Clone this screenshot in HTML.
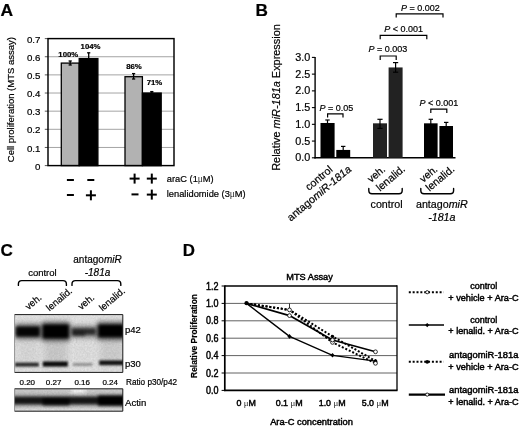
<!DOCTYPE html>
<html><head><meta charset="utf-8"><title>Figure</title>
<style>
html,body{margin:0;padding:0;background:#fff;}
body{width:520px;height:428px;overflow:hidden;font-family:"Liberation Sans",sans-serif;}
svg{display:block;filter:blur(0.45px);}
svg text{font-family:"Liberation Sans",sans-serif;fill:#000;stroke:#000;stroke-width:0.2px;}
</style></head><body>
<svg width="520" height="428" viewBox="0 0 520 428">
<rect x="0" y="0" width="520" height="428" fill="#fff"/>
<text x="0.60" y="16.01" font-size="16.5" text-anchor="start" font-weight="bold" font-style="normal" textLength="12.6" lengthAdjust="spacingAndGlyphs" >A</text>
<text x="255.40" y="16.01" font-size="16.5" text-anchor="start" font-weight="bold" font-style="normal" textLength="12.4" lengthAdjust="spacingAndGlyphs" >B</text>
<text x="0.60" y="256.11" font-size="16.5" text-anchor="start" font-weight="bold" font-style="normal" textLength="12.4" lengthAdjust="spacingAndGlyphs" >C</text>
<text x="182.80" y="256.21" font-size="16.5" text-anchor="start" font-weight="bold" font-style="normal" textLength="12.2" lengthAdjust="spacingAndGlyphs" >D</text>
<line x1="48.00" y1="147.46" x2="174.00" y2="147.46" stroke="#9a9a9a" stroke-width="0.9" />
<line x1="48.00" y1="129.31" x2="174.00" y2="129.31" stroke="#9a9a9a" stroke-width="0.9" />
<line x1="48.00" y1="111.17" x2="174.00" y2="111.17" stroke="#9a9a9a" stroke-width="0.9" />
<line x1="48.00" y1="93.03" x2="174.00" y2="93.03" stroke="#9a9a9a" stroke-width="0.9" />
<line x1="48.00" y1="74.89" x2="174.00" y2="74.89" stroke="#9a9a9a" stroke-width="0.9" />
<line x1="48.00" y1="56.74" x2="174.00" y2="56.74" stroke="#9a9a9a" stroke-width="0.9" />
<line x1="44.80" y1="165.60" x2="48.00" y2="165.60" stroke="#444" stroke-width="0.9" />
<text x="40.40" y="169.77" font-size="9.7" text-anchor="end" font-weight="normal" font-style="normal" >0</text>
<line x1="44.80" y1="147.46" x2="48.00" y2="147.46" stroke="#444" stroke-width="0.9" />
<text x="40.40" y="151.63" font-size="9.7" text-anchor="end" font-weight="normal" font-style="normal" >0.1</text>
<line x1="44.80" y1="129.31" x2="48.00" y2="129.31" stroke="#444" stroke-width="0.9" />
<text x="40.40" y="133.49" font-size="9.7" text-anchor="end" font-weight="normal" font-style="normal" >0.2</text>
<line x1="44.80" y1="111.17" x2="48.00" y2="111.17" stroke="#444" stroke-width="0.9" />
<text x="40.40" y="115.34" font-size="9.7" text-anchor="end" font-weight="normal" font-style="normal" >0.3</text>
<line x1="44.80" y1="93.03" x2="48.00" y2="93.03" stroke="#444" stroke-width="0.9" />
<text x="40.40" y="97.20" font-size="9.7" text-anchor="end" font-weight="normal" font-style="normal" >0.4</text>
<line x1="44.80" y1="74.89" x2="48.00" y2="74.89" stroke="#444" stroke-width="0.9" />
<text x="40.40" y="79.06" font-size="9.7" text-anchor="end" font-weight="normal" font-style="normal" >0.5</text>
<line x1="44.80" y1="56.74" x2="48.00" y2="56.74" stroke="#444" stroke-width="0.9" />
<text x="40.40" y="60.92" font-size="9.7" text-anchor="end" font-weight="normal" font-style="normal" >0.6</text>
<line x1="44.80" y1="38.60" x2="48.00" y2="38.60" stroke="#444" stroke-width="0.9" />
<text x="40.40" y="42.77" font-size="9.7" text-anchor="end" font-weight="normal" font-style="normal" >0.7</text>
<rect x="61.30" y="63.09" width="17.90" height="102.51" fill="#b2b2b2" stroke="#000" stroke-width="1.3" />
<rect x="79.20" y="58.56" width="18.70" height="107.04" fill="#000" stroke="#000" stroke-width="1.3" />
<rect x="125.00" y="76.70" width="17.40" height="88.90" fill="#b2b2b2" stroke="#000" stroke-width="1.3" />
<rect x="142.40" y="93.03" width="18.80" height="72.57" fill="#000" stroke="#000" stroke-width="1.3" />
<rect x="48.00" y="38.60" width="126.00" height="127.00" fill="none" stroke="#000" stroke-width="1.45" />
<line x1="70.20" y1="61.00" x2="70.20" y2="65.00" stroke="#000" stroke-width="1.3" />
<line x1="68.60" y1="61.00" x2="71.80" y2="61.00" stroke="#000" stroke-width="1.3" />
<line x1="68.60" y1="65.00" x2="71.80" y2="65.00" stroke="#000" stroke-width="1.3" />
<line x1="88.70" y1="52.80" x2="88.70" y2="59.00" stroke="#000" stroke-width="1.3" />
<line x1="87.10" y1="52.80" x2="90.30" y2="52.80" stroke="#000" stroke-width="1.3" />
<line x1="87.10" y1="59.00" x2="90.30" y2="59.00" stroke="#000" stroke-width="1.3" />
<line x1="133.60" y1="73.60" x2="133.60" y2="79.00" stroke="#000" stroke-width="1.3" />
<line x1="132.00" y1="73.60" x2="135.20" y2="73.60" stroke="#000" stroke-width="1.3" />
<line x1="132.00" y1="79.00" x2="135.20" y2="79.00" stroke="#000" stroke-width="1.3" />
<line x1="151.80" y1="91.60" x2="151.80" y2="93.20" stroke="#000" stroke-width="1.3" />
<line x1="150.20" y1="91.60" x2="153.40" y2="91.60" stroke="#000" stroke-width="1.3" />
<line x1="150.20" y1="93.20" x2="153.40" y2="93.20" stroke="#000" stroke-width="1.3" />
<text x="68.30" y="57.39" font-size="7.8" text-anchor="middle" font-weight="bold" font-style="normal" >100%</text>
<text x="90.60" y="48.69" font-size="7.8" text-anchor="middle" font-weight="bold" font-style="normal" >104%</text>
<text x="134.00" y="68.59" font-size="7.8" text-anchor="middle" font-weight="bold" font-style="normal" >86%</text>
<text x="154.50" y="84.99" font-size="7.8" text-anchor="middle" font-weight="bold" font-style="normal" >71%</text>
<text transform="translate(14.40,99.60) rotate(-90)" font-size="9.5" text-anchor="middle" font-weight="normal" >Cell proliferation (MTS assay)</text>
<rect x="66.90" y="179.00" width="7.00" height="2.00" fill="#000" stroke="none" stroke-width="1" />
<rect x="87.30" y="179.00" width="7.00" height="2.00" fill="#000" stroke="none" stroke-width="1" />
<rect x="66.90" y="194.00" width="7.00" height="2.00" fill="#000" stroke="none" stroke-width="1" />
<rect x="85.90" y="194.30" width="10.00" height="2.00" fill="#000" stroke="none" stroke-width="1" />
<rect x="89.90" y="190.30" width="2.00" height="10.00" fill="#000" stroke="none" stroke-width="1" />
<rect x="129.60" y="177.60" width="10.00" height="2.00" fill="#000" stroke="none" stroke-width="1" />
<rect x="133.60" y="173.60" width="2.00" height="10.00" fill="#000" stroke="none" stroke-width="1" />
<rect x="146.80" y="177.60" width="10.00" height="2.00" fill="#000" stroke="none" stroke-width="1" />
<rect x="150.80" y="173.60" width="2.00" height="10.00" fill="#000" stroke="none" stroke-width="1" />
<rect x="131.50" y="193.40" width="7.00" height="2.00" fill="#000" stroke="none" stroke-width="1" />
<rect x="146.80" y="193.60" width="10.00" height="2.00" fill="#000" stroke="none" stroke-width="1" />
<rect x="150.80" y="189.60" width="2.00" height="10.00" fill="#000" stroke="none" stroke-width="1" />
<text x="166.80" y="181.93" font-size="9.3" text-anchor="start" font-weight="normal" font-style="normal" >araC (1<tspan style="font-family:'Liberation Serif',serif;stroke:none;fill:#222">&#956;</tspan>M)</text>
<text x="166.80" y="197.13" font-size="9.3" text-anchor="start" font-weight="normal" font-style="normal" >lenalidomide (3<tspan style="font-family:'Liberation Serif',serif;stroke:none;fill:#222">&#956;</tspan>M)</text>
<line x1="315.10" y1="56.90" x2="315.10" y2="158.40" stroke="#000" stroke-width="1.4" />
<line x1="314.40" y1="157.80" x2="455.50" y2="157.80" stroke="#000" stroke-width="1.4" />
<line x1="311.90" y1="157.80" x2="315.10" y2="157.80" stroke="#000" stroke-width="1.1" />
<text x="310.30" y="161.37" font-size="10.8" text-anchor="end" font-weight="normal" font-style="normal" >0.0</text>
<line x1="311.90" y1="141.07" x2="315.10" y2="141.07" stroke="#000" stroke-width="1.1" />
<text x="310.30" y="144.63" font-size="10.8" text-anchor="end" font-weight="normal" font-style="normal" >0.5</text>
<line x1="311.90" y1="124.33" x2="315.10" y2="124.33" stroke="#000" stroke-width="1.1" />
<text x="310.30" y="127.90" font-size="10.8" text-anchor="end" font-weight="normal" font-style="normal" >1.0</text>
<line x1="311.90" y1="107.60" x2="315.10" y2="107.60" stroke="#000" stroke-width="1.1" />
<text x="310.30" y="111.17" font-size="10.8" text-anchor="end" font-weight="normal" font-style="normal" >1.5</text>
<line x1="311.90" y1="90.87" x2="315.10" y2="90.87" stroke="#000" stroke-width="1.1" />
<text x="310.30" y="94.43" font-size="10.8" text-anchor="end" font-weight="normal" font-style="normal" >2.0</text>
<line x1="311.90" y1="74.13" x2="315.10" y2="74.13" stroke="#000" stroke-width="1.1" />
<text x="310.30" y="77.70" font-size="10.8" text-anchor="end" font-weight="normal" font-style="normal" >2.5</text>
<line x1="311.90" y1="57.40" x2="315.10" y2="57.40" stroke="#000" stroke-width="1.1" />
<text x="310.30" y="60.97" font-size="10.8" text-anchor="end" font-weight="normal" font-style="normal" >3.0</text>
<rect x="320.50" y="122.99" width="14.10" height="34.81" fill="#000" stroke="none" stroke-width="1" />
<rect x="336.30" y="149.94" width="13.90" height="7.86" fill="#000" stroke="none" stroke-width="1" />
<rect x="373.00" y="123.33" width="14.00" height="34.47" fill="#222" stroke="none" stroke-width="1" />
<rect x="388.60" y="67.44" width="14.00" height="90.36" fill="#222" stroke="none" stroke-width="1" />
<rect x="424.00" y="123.33" width="13.60" height="34.47" fill="#000" stroke="none" stroke-width="1" />
<rect x="439.40" y="126.01" width="13.60" height="31.79" fill="#000" stroke="none" stroke-width="1" />
<line x1="327.50" y1="120.00" x2="327.50" y2="124.50" stroke="#000" stroke-width="1.2" />
<line x1="325.30" y1="120.00" x2="329.70" y2="120.00" stroke="#000" stroke-width="1.2" />
<line x1="325.30" y1="124.50" x2="329.70" y2="124.50" stroke="#000" stroke-width="1.2" />
<line x1="343.20" y1="146.40" x2="343.20" y2="151.50" stroke="#000" stroke-width="1.2" />
<line x1="341.00" y1="146.40" x2="345.40" y2="146.40" stroke="#000" stroke-width="1.2" />
<line x1="341.00" y1="151.50" x2="345.40" y2="151.50" stroke="#000" stroke-width="1.2" />
<line x1="380.00" y1="119.30" x2="380.00" y2="128.40" stroke="#000" stroke-width="1.2" />
<line x1="377.40" y1="119.30" x2="382.60" y2="119.30" stroke="#000" stroke-width="1.2" />
<line x1="377.40" y1="128.40" x2="382.60" y2="128.40" stroke="#000" stroke-width="1.2" />
<line x1="395.60" y1="62.60" x2="395.60" y2="72.20" stroke="#000" stroke-width="1.2" />
<line x1="393.00" y1="62.60" x2="398.20" y2="62.60" stroke="#000" stroke-width="1.2" />
<line x1="393.00" y1="72.20" x2="398.20" y2="72.20" stroke="#000" stroke-width="1.2" />
<line x1="430.80" y1="119.30" x2="430.80" y2="126.00" stroke="#000" stroke-width="1.2" />
<line x1="428.60" y1="119.30" x2="433.00" y2="119.30" stroke="#000" stroke-width="1.2" />
<line x1="428.60" y1="126.00" x2="433.00" y2="126.00" stroke="#000" stroke-width="1.2" />
<line x1="446.20" y1="122.40" x2="446.20" y2="128.00" stroke="#000" stroke-width="1.2" />
<line x1="444.00" y1="122.40" x2="448.40" y2="122.40" stroke="#000" stroke-width="1.2" />
<line x1="444.00" y1="128.00" x2="448.40" y2="128.00" stroke="#000" stroke-width="1.2" />
<path d="M327.60,117.60 V113.80 H343.00 V117.60" stroke="#000" stroke-width="1.2" fill="none" />
<path d="M380.20,60.00 V56.00 H396.20 V60.00" stroke="#000" stroke-width="1.2" fill="none" />
<path d="M380.20,39.20 V35.40 H426.80 V39.20" stroke="#000" stroke-width="1.2" fill="none" />
<path d="M396.20,17.60 V13.90 H443.00 V17.60" stroke="#000" stroke-width="1.2" fill="none" />
<path d="M430.80,113.00 V109.20 H446.80 V113.00" stroke="#000" stroke-width="1.2" fill="none" />
<text transform="translate(319.60,111.01) scale(1,1.09)" font-size="9.0"><tspan font-style="italic">P</tspan> = 0.05</text>
<text transform="translate(368.40,52.21) scale(1,1.09)" font-size="9.0"><tspan font-style="italic">P</tspan> = 0.003</text>
<text transform="translate(384.20,32.21) scale(1,1.09)" font-size="9.0"><tspan font-style="italic">P</tspan> &lt; 0.001</text>
<text transform="translate(401.00,11.41) scale(1,1.09)" font-size="9.0"><tspan font-style="italic">P</tspan> = 0.002</text>
<text transform="translate(419.60,105.81) scale(1,1.09)" font-size="9.0"><tspan font-style="italic">P</tspan> &lt; 0.001</text>
<text transform="translate(280.40,97.50) rotate(-90)" font-size="10.9" text-anchor="middle" font-weight="normal" >Relative <tspan font-style="italic">miR-181a</tspan> Expression</text>
<text transform="translate(333.30,170.60) rotate(-40)" font-size="10.6" text-anchor="end" font-weight="normal" >control</text>
<text transform="translate(352.00,170.40) rotate(-40)" font-size="10.8" text-anchor="end" font-weight="normal" >antago<tspan font-style="italic">miR-181a</tspan></text>
<text transform="translate(386.00,170.40) rotate(-40)" font-size="10.4" text-anchor="end" font-weight="normal" >veh.</text>
<text transform="translate(405.90,170.00) rotate(-40)" font-size="10.7" text-anchor="end" font-weight="normal" >lenalid.</text>
<text transform="translate(438.30,170.30) rotate(-40)" font-size="10.4" text-anchor="end" font-weight="normal" >veh.</text>
<text transform="translate(455.20,170.20) rotate(-40)" font-size="10.6" text-anchor="end" font-weight="normal" >lenalid.</text>
<path d="M368.80,188.40 V190.60 Q368.80,193.80 372.00,193.80 H399.00 Q402.20,193.80 402.20,190.60 V188.40" stroke="#000" stroke-width="1.4" fill="none" stroke-linecap="round"/>
<path d="M420.80,188.40 V190.60 Q420.80,193.80 424.00,193.80 H450.40 Q453.60,193.80 453.60,190.60 V188.40" stroke="#000" stroke-width="1.4" fill="none" stroke-linecap="round"/>
<text x="386.60" y="208.03" font-size="10.7" text-anchor="middle" font-weight="normal" font-style="normal" >control</text>
<text x="441.80" y="208.03" font-size="10.7" text-anchor="middle" font-weight="normal" font-style="normal" >antago<tspan font-style="italic">miR</tspan></text>
<text x="441.80" y="221.13" font-size="10.7" text-anchor="middle" font-weight="normal" font-style="italic" >-181a</text>
<text x="42.40" y="275.80" font-size="9.5" text-anchor="middle" font-weight="normal" font-style="normal" >control</text>
<text x="97.50" y="263.38" font-size="10" text-anchor="middle" font-weight="normal" font-style="normal" >antago<tspan font-style="italic">miR</tspan></text>
<text x="97.50" y="275.98" font-size="10" text-anchor="middle" font-weight="normal" font-style="italic" >-181a</text>
<path d="M18.40,285.40 V284.00 Q18.40,280.60 21.80,280.60 H63.00 Q66.40,280.60 66.40,284.00 V285.40" stroke="#000" stroke-width="1.4" fill="none" stroke-linecap="round"/>
<path d="M72.00,285.40 V284.00 Q72.00,280.60 75.40,280.60 H117.40 Q120.80,280.60 120.80,284.00 V285.40" stroke="#000" stroke-width="1.4" fill="none" stroke-linecap="round"/>
<text transform="translate(28.40,310.30) rotate(-40)" font-size="9.6" text-anchor="start" font-weight="normal" >veh.</text>
<text transform="translate(49.60,311.50) rotate(-40)" font-size="9.6" text-anchor="start" font-weight="normal" >lenalid.</text>
<text transform="translate(81.20,310.30) rotate(-40)" font-size="9.6" text-anchor="start" font-weight="normal" >veh.</text>
<text transform="translate(102.40,311.50) rotate(-40)" font-size="9.6" text-anchor="start" font-weight="normal" >lenalid.</text>
<defs>
<filter id="bh" x="-30%" y="-100%" width="160%" height="300%" color-interpolation-filters="sRGB"><feGaussianBlur stdDeviation="2.2 2.4"/></filter>
<filter id="bc" x="-30%" y="-100%" width="160%" height="300%" color-interpolation-filters="sRGB"><feGaussianBlur stdDeviation="1.4 1.5"/></filter>
<filter id="bs" x="-30%" y="-100%" width="160%" height="300%" color-interpolation-filters="sRGB"><feGaussianBlur stdDeviation="3.0 4.0"/></filter>
<filter id="bp" x="-30%" y="-100%" width="160%" height="300%" color-interpolation-filters="sRGB"><feGaussianBlur stdDeviation="1.3 0.95"/></filter>
<filter id="nz" x="0" y="0" width="100%" height="100%" color-interpolation-filters="sRGB"><feTurbulence type="fractalNoise" baseFrequency="0.55" numOctaves="2" seed="7" result="t"/><feColorMatrix in="t" type="matrix" values="0 0 0 0 0  0 0 0 0 0  0 0 0 0 0  0.9 0.9 0 0 -0.55"/></filter>
<clipPath id="c1"><rect x="14.6" y="314.6" width="108.20" height="57.80"/></clipPath>
<clipPath id="c2"><rect x="14.6" y="388.8" width="108.20" height="22.40"/></clipPath>
</defs>
<rect x="14.60" y="314.60" width="108.20" height="57.80" fill="#e6e6e6" stroke="none" stroke-width="1" />
<g clip-path="url(#c1)">
<g filter="url(#bs)">
<rect x="17.00" y="322.00" width="21.70" height="44.00" fill="#dadada" stroke="none" stroke-width="1" />
<rect x="43.80" y="322.00" width="23.90" height="44.00" fill="#cccccc" stroke="none" stroke-width="1" />
<rect x="72.70" y="322.00" width="22.20" height="44.00" fill="#e0e0e0" stroke="none" stroke-width="1" />
<rect x="99.30" y="322.00" width="23.70" height="44.00" fill="#d0d0d0" stroke="none" stroke-width="1" />
</g>
<g filter="url(#bh)">
<rect x="15.00" y="324.50" width="25.70" height="14.00" fill="#4a4a4a" stroke="none" stroke-width="1" />
<rect x="41.80" y="322.50" width="27.90" height="18.00" fill="#3a3a3a" stroke="none" stroke-width="1" />
<rect x="70.70" y="326.00" width="26.20" height="11.50" fill="#7a7a7a" stroke="none" stroke-width="1" />
<rect x="97.30" y="322.50" width="27.70" height="17.00" fill="#404040" stroke="none" stroke-width="1" />
</g>
<g filter="url(#bc)">
<rect x="16.30" y="327.00" width="23.10" height="9.20" fill="#050505" stroke="none" stroke-width="1" />
<rect x="43.10" y="325.00" width="25.30" height="12.80" fill="#000" stroke="none" stroke-width="1" />
<rect x="72.00" y="328.60" width="23.60" height="5.80" fill="#2c2c2c" stroke="none" stroke-width="1" />
<rect x="98.60" y="325.00" width="25.10" height="11.80" fill="#000" stroke="none" stroke-width="1" />
<rect x="72.50" y="330.50" width="12.50" height="5.10" fill="#222" stroke="none" stroke-width="1" />
</g>
<g filter="url(#bp)">
<rect x="15.00" y="362.60" width="23.80" height="4.00" fill="#2a2a2a" stroke="none" stroke-width="1" />
<rect x="42.80" y="361.50" width="25.00" height="5.10" fill="#0c0c0c" stroke="none" stroke-width="1" />
<rect x="73.00" y="363.20" width="19.50" height="2.60" fill="#8c8c8c" stroke="none" stroke-width="1" />
<rect x="99.20" y="360.40" width="25.80" height="4.80" fill="#141414" stroke="none" stroke-width="1" />
</g>
<rect x="14.60" y="314.60" width="108.20" height="57.80" fill="#000" stroke="none" stroke-width="1" filter="url(#nz)" opacity="0.10"/>
</g>
<path d="M14.60,314.60 H122.80 V372.40 H14.60" stroke="#1a1a1a" stroke-width="1.0" fill="none" />
<line x1="14.60" y1="314.60" x2="14.60" y2="372.40" stroke="#777" stroke-width="0.8" />
<rect x="14.60" y="388.80" width="108.20" height="22.40" fill="#cfcfcf" stroke="none" stroke-width="1" />
<g clip-path="url(#c2)">
<g filter="url(#bh)">
<rect x="8.00" y="395.50" width="122.00" height="10.00" fill="#8a8a8a" stroke="none" stroke-width="1" />
<rect x="71.00" y="387.00" width="15.00" height="7.00" fill="#fafafa" stroke="none" stroke-width="1" />
<rect x="8.00" y="408.50" width="122.00" height="5.50" fill="#e8e8e8" stroke="none" stroke-width="1" />
</g>
<g filter="url(#bc)">
<rect x="8.00" y="396.80" width="122.00" height="7.40" fill="#161616" stroke="none" stroke-width="1" />
<rect x="42.50" y="397.20" width="27.00" height="8.20" fill="#050505" stroke="none" stroke-width="1" />
<rect x="98.00" y="395.40" width="28.00" height="10.40" fill="#000" stroke="none" stroke-width="1" />
</g>
<rect x="14.60" y="388.80" width="108.20" height="22.40" fill="#000" stroke="none" stroke-width="1" filter="url(#nz)" opacity="0.10"/>
</g>
<path d="M14.60,388.80 H122.80 V411.20 H14.60" stroke="#1a1a1a" stroke-width="1.0" fill="none" />
<line x1="14.60" y1="388.80" x2="14.60" y2="411.20" stroke="#777" stroke-width="0.8" />
<text x="125.00" y="332.60" font-size="9.5" text-anchor="start" font-weight="normal" font-style="normal" >p42</text>
<text x="125.00" y="366.60" font-size="9.5" text-anchor="start" font-weight="normal" font-style="normal" >p30</text>
<text x="125.00" y="405.64" font-size="9.6" text-anchor="start" font-weight="normal" font-style="normal" >Actin</text>
<text x="27.30" y="384.86" font-size="8" text-anchor="middle" font-weight="normal" font-style="normal" >0.20</text>
<text x="53.60" y="384.86" font-size="8" text-anchor="middle" font-weight="normal" font-style="normal" >0.27</text>
<text x="82.20" y="384.86" font-size="8" text-anchor="middle" font-weight="normal" font-style="normal" >0.16</text>
<text x="110.20" y="384.86" font-size="8" text-anchor="middle" font-weight="normal" font-style="normal" >0.24</text>
<text x="126.00" y="384.94" font-size="8.2" text-anchor="start" font-weight="normal" font-style="normal" >Ratio p30/p42</text>
<line x1="224.80" y1="373.00" x2="397.00" y2="373.00" stroke="#3a3a3a" stroke-width="0.8" />
<line x1="224.80" y1="355.60" x2="397.00" y2="355.60" stroke="#3a3a3a" stroke-width="0.8" />
<line x1="224.80" y1="338.20" x2="397.00" y2="338.20" stroke="#3a3a3a" stroke-width="0.8" />
<line x1="224.80" y1="320.80" x2="397.00" y2="320.80" stroke="#3a3a3a" stroke-width="0.8" />
<line x1="224.80" y1="303.40" x2="397.00" y2="303.40" stroke="#3a3a3a" stroke-width="0.8" />
<line x1="224.80" y1="286.00" x2="397.00" y2="286.00" stroke="#000" stroke-width="1.5" />
<line x1="397.00" y1="285.30" x2="397.00" y2="390.40" stroke="#000" stroke-width="1.3" />
<line x1="224.80" y1="285.40" x2="224.80" y2="391.10" stroke="#000" stroke-width="1.7" />
<line x1="224.00" y1="390.40" x2="397.50" y2="390.40" stroke="#000" stroke-width="1.6" />
<line x1="221.60" y1="390.40" x2="224.80" y2="390.40" stroke="#000" stroke-width="1" />
<text x="218.40" y="394.08" font-size="10.0" text-anchor="end" font-weight="normal" font-style="normal" textLength="12.5" lengthAdjust="spacingAndGlyphs" style="stroke:#000;stroke-width:0.45px">0.0</text>
<line x1="221.60" y1="373.00" x2="224.80" y2="373.00" stroke="#000" stroke-width="1" />
<text x="218.40" y="376.68" font-size="10.0" text-anchor="end" font-weight="normal" font-style="normal" textLength="12.5" lengthAdjust="spacingAndGlyphs" style="stroke:#000;stroke-width:0.45px">0.2</text>
<line x1="221.60" y1="355.60" x2="224.80" y2="355.60" stroke="#000" stroke-width="1" />
<text x="218.40" y="359.28" font-size="10.0" text-anchor="end" font-weight="normal" font-style="normal" textLength="12.5" lengthAdjust="spacingAndGlyphs" style="stroke:#000;stroke-width:0.45px">0.4</text>
<line x1="221.60" y1="338.20" x2="224.80" y2="338.20" stroke="#000" stroke-width="1" />
<text x="218.40" y="341.88" font-size="10.0" text-anchor="end" font-weight="normal" font-style="normal" textLength="12.5" lengthAdjust="spacingAndGlyphs" style="stroke:#000;stroke-width:0.45px">0.6</text>
<line x1="221.60" y1="320.80" x2="224.80" y2="320.80" stroke="#000" stroke-width="1" />
<text x="218.40" y="324.48" font-size="10.0" text-anchor="end" font-weight="normal" font-style="normal" textLength="12.5" lengthAdjust="spacingAndGlyphs" style="stroke:#000;stroke-width:0.45px">0.8</text>
<line x1="221.60" y1="303.40" x2="224.80" y2="303.40" stroke="#000" stroke-width="1" />
<text x="218.40" y="307.08" font-size="10.0" text-anchor="end" font-weight="normal" font-style="normal" textLength="12.5" lengthAdjust="spacingAndGlyphs" style="stroke:#000;stroke-width:0.45px">1.0</text>
<line x1="221.60" y1="286.00" x2="224.80" y2="286.00" stroke="#000" stroke-width="1" />
<text x="218.40" y="289.68" font-size="10.0" text-anchor="end" font-weight="normal" font-style="normal" textLength="12.5" lengthAdjust="spacingAndGlyphs" style="stroke:#000;stroke-width:0.45px">1.2</text>
<polyline points="246.50,303.40 289.50,336.40 332.50,355.30 375.50,361.20" fill="none" stroke="#000" stroke-width="1.35" stroke-linejoin="round"/>
<polyline points="246.50,303.40 289.50,309.90 332.50,336.40 375.50,361.00" fill="none" stroke="#000" stroke-width="2.0" stroke-dasharray="2 1.85" stroke-linejoin="round"/>
<polyline points="246.50,303.40 289.50,309.90 332.50,342.40 375.50,363.30" fill="none" stroke="#000" stroke-width="2.0" stroke-dasharray="2 1.85" stroke-linejoin="round"/>
<polyline points="246.50,303.40 289.50,315.60 332.50,340.00 375.50,351.80" fill="none" stroke="#000" stroke-width="1.7" stroke-linejoin="round"/>
<line x1="289.50" y1="303.60" x2="289.50" y2="309.00" stroke="#000" stroke-width="0.8" />
<path d="M289.5,334.09999999999997 l2.1,2.3 l-2.1,2.3 l-2.1,-2.3 z" fill="#000"/>
<path d="M332.5,353.0 l2.1,2.3 l-2.1,2.3 l-2.1,-2.3 z" fill="#000"/>
<path d="M375.5,358.9 l2.1,2.3 l-2.1,2.3 l-2.1,-2.3 z" fill="#000"/>
<circle cx="289.5" cy="309.9" r="1.7" fill="#000"/>
<circle cx="332.5" cy="336.4" r="1.7" fill="#000"/>
<circle cx="375.5" cy="361.0" r="1.7" fill="#000"/>
<circle cx="289.5" cy="309.9" r="1.9" fill="#fff" stroke="#000" stroke-width="0.8"/>
<circle cx="332.5" cy="342.4" r="1.9" fill="#fff" stroke="#000" stroke-width="0.8"/>
<circle cx="375.5" cy="363.3" r="1.9" fill="#fff" stroke="#000" stroke-width="0.8"/>
<circle cx="289.5" cy="315.6" r="1.9" fill="#fff" stroke="#000" stroke-width="0.8"/>
<circle cx="332.5" cy="340.0" r="1.9" fill="#fff" stroke="#000" stroke-width="0.8"/>
<circle cx="375.5" cy="351.8" r="1.9" fill="#fff" stroke="#000" stroke-width="0.8"/>
<circle cx="246.5" cy="303.2" r="2.1" fill="#000"/>
<text x="309.60" y="280.29" font-size="9.2" text-anchor="middle" font-weight="normal" font-style="normal" style="stroke:#000;stroke-width:0.45px">MTS Assay</text>
<text x="246.20" y="405.99" font-size="8.9" text-anchor="middle" font-weight="normal" font-style="normal" style="stroke:#000;stroke-width:0.45px">0 <tspan style="font-family:'Liberation Serif',serif;stroke:none;fill:#222">&#956;</tspan>M</text>
<text x="289.20" y="405.99" font-size="8.9" text-anchor="middle" font-weight="normal" font-style="normal" style="stroke:#000;stroke-width:0.45px">0.1 <tspan style="font-family:'Liberation Serif',serif;stroke:none;fill:#222">&#956;</tspan>M</text>
<text x="332.20" y="405.99" font-size="8.9" text-anchor="middle" font-weight="normal" font-style="normal" style="stroke:#000;stroke-width:0.45px">1.0 <tspan style="font-family:'Liberation Serif',serif;stroke:none;fill:#222">&#956;</tspan>M</text>
<text x="375.20" y="405.99" font-size="8.9" text-anchor="middle" font-weight="normal" font-style="normal" style="stroke:#000;stroke-width:0.45px">5.0 <tspan style="font-family:'Liberation Serif',serif;stroke:none;fill:#222">&#956;</tspan>M</text>
<text x="311.50" y="424.73" font-size="9.3" text-anchor="middle" font-weight="normal" font-style="normal" style="stroke:#000;stroke-width:0.45px">Ara-C concentration</text>
<text transform="translate(197.00,336.00) rotate(-90)" font-size="8.4" text-anchor="middle" font-weight="bold" >Relative Proliferation</text>
<line x1="408.80" y1="292.20" x2="443.60" y2="292.20" stroke="#000" stroke-width="1.9" stroke-dasharray="2 1.85"/>
<circle cx="427.2" cy="292.2" r="1.6" fill="#fff" stroke="#000" stroke-width="0.8"/>
<line x1="408.80" y1="325.10" x2="444.00" y2="325.10" stroke="#000" stroke-width="1.5" />
<path d="M427.2,322.90000000000003 l2,2.2 l-2,2.2 l-2,-2.2 z" fill="#000"/>
<line x1="408.80" y1="361.80" x2="443.60" y2="361.80" stroke="#000" stroke-width="1.9" stroke-dasharray="2 1.85"/>
<circle cx="427.2" cy="361.8" r="1.9" fill="#000"/>
<line x1="408.80" y1="394.60" x2="445.00" y2="394.60" stroke="#000" stroke-width="2.1" />
<circle cx="427.2" cy="394.6" r="1.6" fill="#fff" stroke="#000" stroke-width="0.8"/>
<text x="483.80" y="289.02" font-size="9.0" text-anchor="middle" font-weight="normal" font-style="normal" style="stroke:#000;stroke-width:0.45px">control</text>
<text x="518.60" y="300.52" font-size="9.0" text-anchor="end" font-weight="normal" font-style="normal" textLength="70.3" lengthAdjust="spacingAndGlyphs" style="stroke:#000;stroke-width:0.45px">+ vehicle + Ara-C</text>
<text x="483.80" y="322.82" font-size="9.0" text-anchor="middle" font-weight="normal" font-style="normal" style="stroke:#000;stroke-width:0.45px">control</text>
<text x="518.60" y="334.42" font-size="9.0" text-anchor="end" font-weight="normal" font-style="normal" textLength="70.3" lengthAdjust="spacingAndGlyphs" style="stroke:#000;stroke-width:0.45px">+ lenalid. + Ara-C</text>
<text x="518.40" y="358.42" font-size="9.0" text-anchor="end" font-weight="normal" font-style="normal" textLength="69.4" lengthAdjust="spacingAndGlyphs" style="stroke:#000;stroke-width:0.45px">antagomiR-181a</text>
<text x="518.60" y="370.12" font-size="9.0" text-anchor="end" font-weight="normal" font-style="normal" textLength="70.3" lengthAdjust="spacingAndGlyphs" style="stroke:#000;stroke-width:0.45px">+ vehicle + Ara-C</text>
<text x="518.40" y="393.02" font-size="9.0" text-anchor="end" font-weight="normal" font-style="normal" textLength="69.4" lengthAdjust="spacingAndGlyphs" style="stroke:#000;stroke-width:0.45px">antagomiR-181a</text>
<text x="518.60" y="404.52" font-size="9.0" text-anchor="end" font-weight="normal" font-style="normal" textLength="70.3" lengthAdjust="spacingAndGlyphs" style="stroke:#000;stroke-width:0.45px">+ lenalid. + Ara-C</text>
</svg>
</body></html>
